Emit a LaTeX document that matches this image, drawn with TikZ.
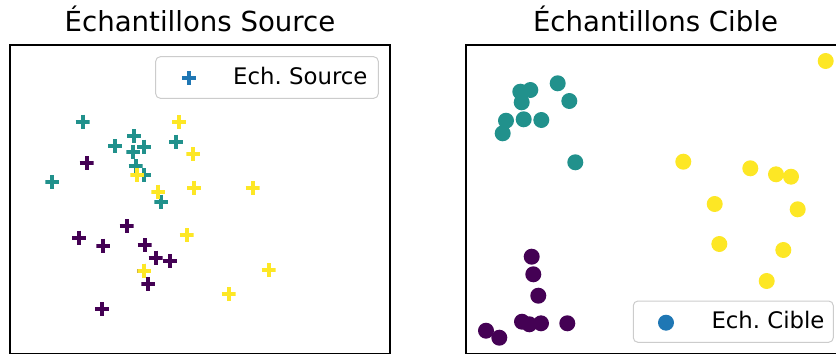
\documentclass[tikz,border=0pt]{standalone}
\usepackage{fontspec}
\setmainfont{DejaVu Sans}
\usepackage{tikz}

\definecolor{vpurple}{HTML}{440154}
\definecolor{vteal}{HTML}{21918C}
\definecolor{vyellow}{HTML}{FDE725}
\definecolor{mplblue}{HTML}{1F77B4}
\definecolor{legframe}{HTML}{CCCCCC}

\tikzset{
  src/.style={minimum size=14pt, inner sep=0pt,
    path picture={\draw[line width=3.8pt] (path picture bounding box.west) -- (path picture bounding box.east)
      (path picture bounding box.north) -- (path picture bounding box.south);}},
  tgt/.style={circle, fill, minimum size=16pt, inner sep=0pt},
  cadre/.style={line width=1.5pt},
  legende/.style={draw=legframe, fill=white, fill opacity=0.8, rounded corners=4.6pt, line width=1pt},
  titre/.style={font=\fontsize{27.6}{33}\selectfont, anchor=base},
  etiq/.style={font=\fontsize{22.8}{28}\selectfont, anchor=base west},
}

\begin{document}
\begin{tikzpicture}[x=1pt,y=-1pt]
  \useasboundingbox (0,0) rectangle (836,356);

  % titres
  \draw (200,31.7) node[titre] (titresrc) {Échantillons Source};
  \draw (655.5,31.7) node[titre] (titrecib) {Échantillons Cible};

  % cadres
  \draw[cadre] (10,45) rectangle (390,353.5);
  \draw[cadre] (836,45) -| (466,353.5) -- (836,353.5);

  % source
  \draw (86.7,163.3) node[src,vpurple] (s1) {};
  \draw (126.7,226) node[src,vpurple] (s2) {};
  \draw (79,237.7) node[src,vpurple] (s3) {};
  \draw (103.3,245.7) node[src,vpurple] (s4) {};
  \draw (144.7,245) node[src,vpurple] (s5) {};
  \draw (155.7,257.7) node[src,vpurple] (s6) {};
  \draw (170,261) node[src,vpurple] (s7) {};
  \draw (148.3,284) node[src,vpurple] (s8) {};
  \draw (102,309.3) node[src,vpurple] (s9) {};
  \draw (144.3,270.7) node[src,vpurple] (s10) {};

  \draw (82.7,121.7) node[src,vteal] (s11) {};
  \draw (52.3,182.3) node[src,vteal] (s12) {};
  \draw (115,146) node[src,vteal] (s13) {};
  \draw (134,136) node[src,vteal] (s14) {};
  \draw (144,146.7) node[src,vteal] (s15) {};
  \draw (133.3,151.7) node[src,vteal] (s16) {};
  \draw (176,141.7) node[src,vteal] (s17) {};
  \draw (135.7,166) node[src,vteal] (s18) {};
  \draw (144,175) node[src,vteal] (s19) {};
  \draw (161.3,201.7) node[src,vteal] (s20) {};

  \draw (179,122.3) node[src,vyellow] (s21) {};
  \draw (193.3,154) node[src,vyellow] (s22) {};
  \draw (137.3,175) node[src,vyellow] (s23) {};
  \draw (158.3,191.7) node[src,vyellow] (s24) {};
  \draw (194,187.7) node[src,vyellow] (s25) {};
  \draw (252.7,188.3) node[src,vyellow] (s26) {};
  \draw (186.7,235) node[src,vyellow] (s27) {};
  \draw (144.3,270.7) node[src,vyellow] (s28) {};
  \draw (268.7,270) node[src,vyellow] (s29) {};
  \draw (228.7,294.3) node[src,vyellow] (s30) {};

  % cible
  \draw (531.7,256.7) node[tgt,vpurple] (c1) {};
  \draw (533.3,274.3) node[tgt,vpurple] (c2) {};
  \draw (538.3,295.7) node[tgt,vpurple] (c3) {};
  \draw (522,321.7) node[tgt,vpurple] (c4) {};
  \draw (529.3,324.3) node[tgt,vpurple] (c5) {};
  \draw (541,323.3) node[tgt,vpurple] (c6) {};
  \draw (567.3,323.3) node[tgt,vpurple] (c7) {};
  \draw (486,330.7) node[tgt,vpurple] (c8) {};
  \draw (499.3,337.7) node[tgt,vpurple] (c9) {};

  \draw (557.7,83.3) node[tgt,vteal] (c10) {};
  \draw (520.3,91.7) node[tgt,vteal] (c11) {};
  \draw (530.3,90) node[tgt,vteal] (c12) {};
  \draw (521.7,102.3) node[tgt,vteal] (c13) {};
  \draw (569.3,101) node[tgt,vteal] (c14) {};
  \draw (506,120.7) node[tgt,vteal] (c15) {};
  \draw (523.7,119.3) node[tgt,vteal] (c16) {};
  \draw (541.3,120) node[tgt,vteal] (c17) {};
  \draw (502.7,133.3) node[tgt,vteal] (c18) {};
  \draw (575.3,162.3) node[tgt,vteal] (c19) {};

  \draw (825.7,61) node[tgt,vyellow] (c20) {};
  \draw (683.3,161.7) node[tgt,vyellow] (c21) {};
  \draw (750.3,168.3) node[tgt,vyellow] (c22) {};
  \draw (776,174.3) node[tgt,vyellow] (c23) {};
  \draw (791,176.7) node[tgt,vyellow] (c24) {};
  \draw (714.7,204) node[tgt,vyellow] (c25) {};
  \draw (797.7,209.3) node[tgt,vyellow] (c26) {};
  \draw (719.3,244) node[tgt,vyellow] (c27) {};
  \draw (783.3,250) node[tgt,vyellow] (c28) {};
  \draw (766.7,281) node[tgt,vyellow] (c29) {};

  % legendes
  \draw[legende] (155.7,56.7) rectangle (378.3,98.3);
  \draw (188.8,78) node[src,mplblue] (legsrc) {};
  \draw (229.7,84.5) node[etiq] (txtsrc) {Ech.\ Source};

  \draw[legende] (633.3,301) rectangle (833.3,342.3);
  \draw (666,322.7) node[tgt,mplblue] (legcib) {};
  \draw (708,328.3) node[etiq] (txtcib) {Ech.\ Cible};
\end{tikzpicture}
\end{document}
